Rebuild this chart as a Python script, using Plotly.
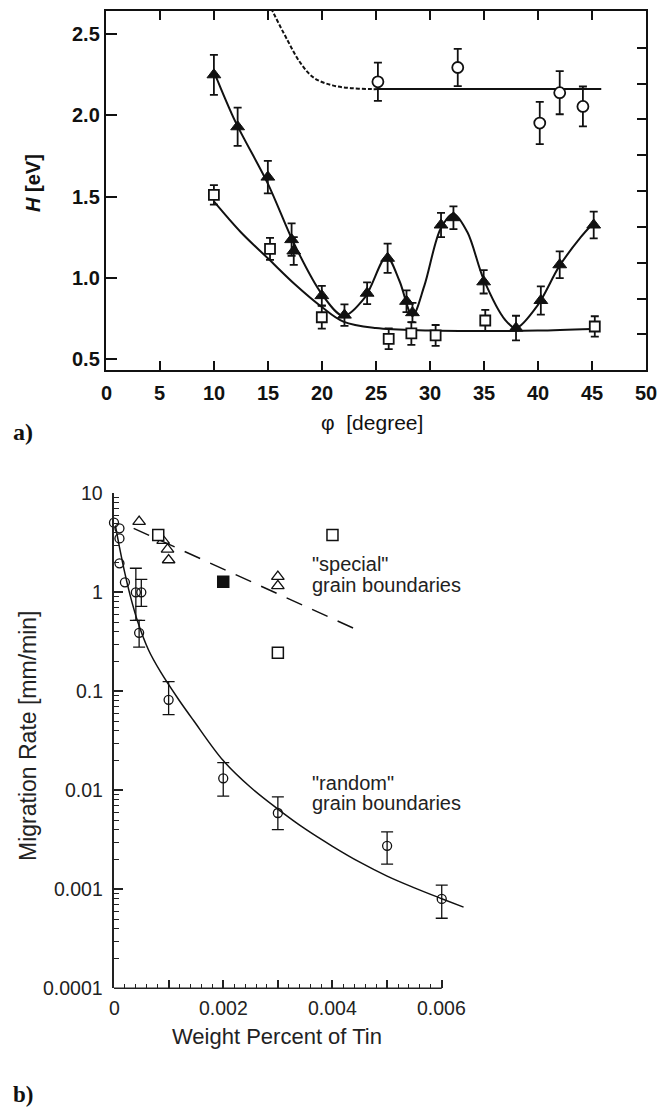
import math
import plotly.graph_objects as go

W, H = 667, 1110

# ---------------- panel a) data ----------------
tri_x = [10, 12.2, 15.0, 17.2, 17.4, 20.0, 22.1, 24.2, 26.1, 27.85, 28.4, 31.05, 32.2, 35.0, 38.0, 40.3, 42.05, 45.2]
tri_y = [2.25, 1.93, 1.62, 1.235, 1.165, 0.89, 0.77, 0.905, 1.12, 0.855, 0.785, 1.325, 1.37, 0.975, 0.69, 0.86, 1.08, 1.325]
tri_err = [0.123, 0.118, 0.10, 0.10, 0.085, 0.06, 0.066, 0.067, 0.09, 0.067, 0.06, 0.075, 0.07, 0.072, 0.076, 0.087, 0.082, 0.082]

sq_x = [10, 15.2, 20.0, 26.2, 28.3, 30.55, 35.15, 45.3]
sq_y = [1.51, 1.178, 0.757, 0.624, 0.657, 0.645, 0.737, 0.70]
sq_err = [0.06, 0.068, 0.07, 0.064, 0.07, 0.064, 0.065, 0.063]

circ_x = [25.2, 32.6, 40.2, 42.05, 44.2]
circ_y = [2.207, 2.295, 1.953, 2.14, 2.055]
circ_err = [0.118, 0.115, 0.13, 0.133, 0.123]

# fitted curves
tri_fit_x = [10, 12, 15, 17.5, 20, 22, 24, 26, 27.2, 28.4, 29.5, 31, 32.2, 33.5, 35, 37, 38, 40, 42, 44, 45]
tri_fit_y = [2.27, 1.96, 1.58, 1.2, 0.9, 0.765, 0.88, 1.13, 0.98, 0.765, 0.95, 1.3, 1.395, 1.28, 0.99, 0.74, 0.69, 0.83, 1.07, 1.25, 1.325]
sq_fit_x = [10, 12.5, 15, 17.5, 20, 22, 25, 30, 35, 40, 45]
sq_fit_y = [1.47, 1.28, 1.12, 0.96, 0.82, 0.73, 0.69, 0.675, 0.672, 0.675, 0.685]
dash_fit_x = [15.3, 16.8, 18.05, 19.3, 21.0, 22.7, 24.6, 25.2]
dash_fit_y = [2.66, 2.465, 2.32, 2.23, 2.185, 2.168, 2.162, 2.162]
flat_fit_x = [25.2, 45.9]
flat_fit_y = [2.162, 2.162]

right_ticks = [0.651, 0.871, 1.094, 1.315, 1.537, 1.758, 1.979, 2.194, 2.418]
a_xticks = [0, 5, 10, 15, 20, 25, 30, 35, 40, 45, 50]
a_xticktext = ["0", "5", "10", "15", "20", "25", "30", "35", "40", "45", "50"]
a_yticks = [0.5, 1.0, 1.5, 2.0, 2.5]
a_yticktext = ["0.5", "1.0", "1.5", "2.0", "2.5"]

# ---------------- panel b) data ----------------
rn_x = [0, 0.0001, 0.0001, 0.0001, 0.0002]
rn_y = [5.05, 4.43, 3.5, 1.96, 1.26]
re_x = [0.0004, 0.0005, 0.00046, 0.001, 0.002, 0.003, 0.005, 0.006]
re_y = [1.0, 1.0, 0.39, 0.082, 0.0132, 0.0059, 0.00275, 0.0008]
re_hi = [1.75, 1.35, 0.52, 0.125, 0.019, 0.0086, 0.0038, 0.0011]
re_lo = [0.52, 0.72, 0.28, 0.058, 0.00875, 0.004, 0.0018, 0.00051]

sp_tri_x = [0.00046, 0.0009, 0.00098, 0.001, 0.003, 0.003]
sp_tri_y = [5.17, 3.32, 2.72, 2.12, 1.44, 1.16]
sp_sq_x = [0.00081, 0.004, 0.003]
sp_sq_y = [3.8, 3.8, 0.245]
sp_fsq_x = [0.002]
sp_fsq_y = [1.28]

rand_fit_x = [0.00003, 0.0001, 0.0002, 0.0003, 0.00043, 0.00063, 0.00085, 0.00118, 0.00145, 0.002,
              0.0025, 0.003, 0.0035, 0.004, 0.0045, 0.005, 0.0055, 0.006, 0.0064]
rand_fit_y = [4.57, 2.86, 1.55, 0.912, 0.513, 0.263, 0.158, 0.0832, 0.0513, 0.01995,
              0.01072, 0.00646, 0.00407, 0.00272, 0.00188, 0.00136, 0.001035, 0.000804, 0.000661]
spec_fit_x = [0.00036, 0.0044]
spec_fit_y = [4.43, 0.43]

b_xticks = [0, 0.001, 0.002, 0.003, 0.004, 0.005, 0.006]
b_xlabels = [0, 0.002, 0.004, 0.006]
b_xlabeltext = ["0", "0.002", "0.004", "0.006"]
b_xminor = [i * 0.0002 for i in range(31) if i % 5 != 0]
b_yticks = [0.0001, 0.001, 0.01, 0.1, 1, 10]
b_yticktext = ["0.0001", "0.001", "0.01", "0.1", "1", "10"]
b_yminor = [m * 10.0 ** e for e in range(-4, 1) for m in range(2, 10)]


def px(x):
    return x / W


def py(y):
    return 1 - y / H


FONT = "Liberation Sans, Arial, sans-serif"
SERIF = "Liberation Serif, Times New Roman, serif"
BLACK = "#111111"
GREY = "#222222"

fig = go.Figure()

# ---- panel a traces ----
fig.add_trace(go.Scatter(x=dash_fit_x, y=dash_fit_y, mode="lines",
                         line=dict(color=BLACK, width=2, dash="4px,2px", shape="spline"), xaxis="x", yaxis="y"))
fig.add_trace(go.Scatter(x=flat_fit_x, y=flat_fit_y, mode="lines", line=dict(color=BLACK, width=2), xaxis="x", yaxis="y"))
fig.add_trace(go.Scatter(x=sq_fit_x, y=sq_fit_y, mode="lines",
                         line=dict(color=BLACK, width=2, shape="spline", smoothing=1.0), xaxis="x", yaxis="y"))
fig.add_trace(go.Scatter(x=tri_fit_x, y=tri_fit_y, mode="lines",
                         line=dict(color=BLACK, width=2, shape="spline", smoothing=0.9), xaxis="x", yaxis="y"))
fig.add_trace(go.Scatter(x=sq_x, y=sq_y, mode="markers",
                         error_y=dict(type="data", array=sq_err, color=BLACK, thickness=1.8, width=4),
                         marker=dict(symbol="square", size=10, color="white", line=dict(color=BLACK, width=1.8)),
                         xaxis="x", yaxis="y"))
fig.add_trace(go.Scatter(x=circ_x, y=circ_y, mode="markers",
                         error_y=dict(type="data", array=circ_err, color=BLACK, thickness=1.8, width=4),
                         marker=dict(symbol="circle", size=11, color="white", line=dict(color=BLACK, width=1.8)),
                         xaxis="x", yaxis="y"))
fig.add_trace(go.Scatter(x=tri_x, y=tri_y, mode="markers",
                         error_y=dict(type="data", array=tri_err, color=BLACK, thickness=1.8, width=4),
                         marker=dict(symbol="triangle-up", size=12, color=BLACK, line=dict(color=BLACK, width=1)),
                         xaxis="x", yaxis="y"))
# carrier for the right-hand tick axis
fig.add_trace(go.Scatter(x=[None], y=[None], mode="lines", xaxis="x", yaxis="y3", hoverinfo="skip"))

# ---- panel b traces ----
fig.add_trace(go.Scatter(x=spec_fit_x, y=spec_fit_y, mode="lines",
                         line=dict(color=BLACK, width=1.5, dash="17px,11px"), xaxis="x2", yaxis="y2"))
fig.add_trace(go.Scatter(x=rand_fit_x, y=rand_fit_y, mode="lines",
                         line=dict(color=BLACK, width=1.5, shape="spline", smoothing=1.0), xaxis="x2", yaxis="y2"))
fig.add_trace(go.Scatter(x=rn_x, y=rn_y, mode="markers", cliponaxis=False,
                         marker=dict(symbol="circle-open", size=9, color=BLACK, line=dict(width=1.3)),
                         xaxis="x2", yaxis="y2"))
fig.add_trace(go.Scatter(x=re_x, y=re_y, mode="markers", cliponaxis=False,
                         error_y=dict(type="data", symmetric=False,
                                      array=[h - v for h, v in zip(re_hi, re_y)],
                                      arrayminus=[v - l for l, v in zip(re_lo, re_y)],
                                      color=BLACK, thickness=1.3, width=6),
                         marker=dict(symbol="circle-open", size=9, color=BLACK, line=dict(width=1.3)),
                         xaxis="x2", yaxis="y2"))
fig.add_trace(go.Scatter(x=sp_tri_x, y=sp_tri_y, mode="markers", cliponaxis=False,
                         marker=dict(symbol="triangle-up-open", size=11, color=BLACK, line=dict(width=1.3)),
                         xaxis="x2", yaxis="y2"))
fig.add_trace(go.Scatter(x=sp_sq_x, y=sp_sq_y, mode="markers", cliponaxis=False,
                         marker=dict(symbol="square", size=11, color="white", line=dict(color=BLACK, width=1.5)),
                         xaxis="x2", yaxis="y2"))
fig.add_trace(go.Scatter(x=sp_fsq_x, y=sp_fsq_y, mode="markers", cliponaxis=False,
                         marker=dict(symbol="square", size=11, color=BLACK, line=dict(color=BLACK, width=1.5)),
                         xaxis="x2", yaxis="y2"))

tickfont_a = dict(family=FONT, size=20, color=BLACK, weight="bold")
tickfont_b = dict(family=FONT, size=19.5, color=GREY)


def note(text, x, y, size, family=FONT, angle=0, xanchor="center", color=GREY):
    return dict(text=text, x=px(x), y=py(y), xref="paper", yref="paper", xanchor=xanchor, yanchor="middle",
                textangle=angle, showarrow=False, font=dict(family=family, size=size, color=color))


annotations = [
    note("<b><i>H</i> [eV]</b>", 33, 183, 20, angle=-90, color=BLACK),
    note("φ  [degree]", 371.5, 422.5, 21, color=BLACK),
    note("<b>a)</b>", 11, 432, 24, family=SERIF, xanchor="left", color=BLACK),
    note("Migration Rate [mm/min]", 28, 736, 23, angle=-90),
    note("Weight Percent of Tin", 276.7, 1036, 22),
    note("<b>b)</b>", 11, 1094, 23, family=SERIF, xanchor="left", color=BLACK),
    note("\"special\"", 310, 564, 20, xanchor="left"),
    note("grain boundaries", 310, 585, 20, xanchor="left"),
    note("\"random\"", 310, 782.5, 20, xanchor="left"),
    note("grain boundaries", 310, 803, 20, xanchor="left"),
]
# tick labels, placed as in the original figure
for v, t in zip(a_xticks, a_xticktext):
    annotations.append(dict(text=t, x=v, y=py(393), xref="x", yref="paper", xanchor="center", yanchor="middle",
                            showarrow=False, font=tickfont_a))
for v, t in zip(a_yticks, a_yticktext):
    annotations.append(dict(text=t, x=px(102), y=v, xref="paper", yref="y", xanchor="right", yanchor="middle",
                            showarrow=False, font=tickfont_a))
for v, t in zip(b_xlabels, b_xlabeltext):
    annotations.append(dict(text=t, x=v, y=py(1007.5), xref="x2", yref="paper", xanchor="center", yanchor="middle",
                            showarrow=False, font=tickfont_b))
for v, t in zip(b_yticks, b_yticktext):
    annotations.append(dict(text=t, x=px(105), y=math.log10(v), xref="paper", yref="y2", xanchor="right",
                            yanchor="middle", showarrow=False, font=tickfont_b))

fig.update_layout(
    width=W, height=H,
    margin=dict(l=0, r=0, t=0, b=0),
    paper_bgcolor="white", plot_bgcolor="white",
    showlegend=False,
    xaxis=dict(domain=[px(106), px(645.5)], range=[0, 50], anchor="y",
               tickvals=a_xticks, ticks="inside", ticklen=9, tickwidth=2, tickcolor=BLACK,
               showline=True, linewidth=2, linecolor=BLACK, mirror="ticks", showticklabels=False,
               showgrid=False, zeroline=False, automargin=False),
    yaxis=dict(domain=[py(370), py(11)], range=[0.432, 2.643], anchor="x",
               tickvals=a_yticks, ticks="inside", ticklen=11, tickwidth=2, tickcolor=BLACK,
               showline=True, linewidth=2, linecolor=BLACK, mirror=True, showticklabels=False,
               showgrid=False, zeroline=False, automargin=False),
    yaxis3=dict(overlaying="y", side="right", anchor="x", range=[0.432, 2.643],
                tickvals=right_ticks, ticks="inside", ticklen=9, tickwidth=2, tickcolor=BLACK,
                showticklabels=False, showline=False, showgrid=False, zeroline=False, automargin=False),
    xaxis2=dict(domain=[px(114), px(474.5)], range=[0, 0.0066], anchor="y2",
                tickvals=b_xticks, ticks="inside", ticklen=8, tickwidth=1.5, tickcolor=GREY,
                minor=dict(tickvals=b_xminor, ticks="inside", ticklen=4, tickwidth=1.3, tickcolor=GREY),
                showticklabels=False, showline=False, showgrid=False, zeroline=False, automargin=False),
    yaxis2=dict(domain=[py(988.3), py(493.3)], type="log", range=[-4, 1], anchor="x2",
                tickvals=b_yticks, ticks="inside", ticklen=9, tickwidth=1.5, tickcolor=GREY,
                minor=dict(tickvals=b_yminor, ticks="inside", ticklen=5, tickwidth=1.3, tickcolor=GREY),
                showline=True, linewidth=1.5, linecolor=GREY, showticklabels=False,
                showgrid=False, zeroline=False, automargin=False),
    shapes=[dict(type="line", xref="x2", yref="y2 domain", x0=0, x1=0.006, y0=0, y1=0,
                 line=dict(color=GREY, width=1.5))],
    annotations=annotations,
)

fig.write_html("out.html")
